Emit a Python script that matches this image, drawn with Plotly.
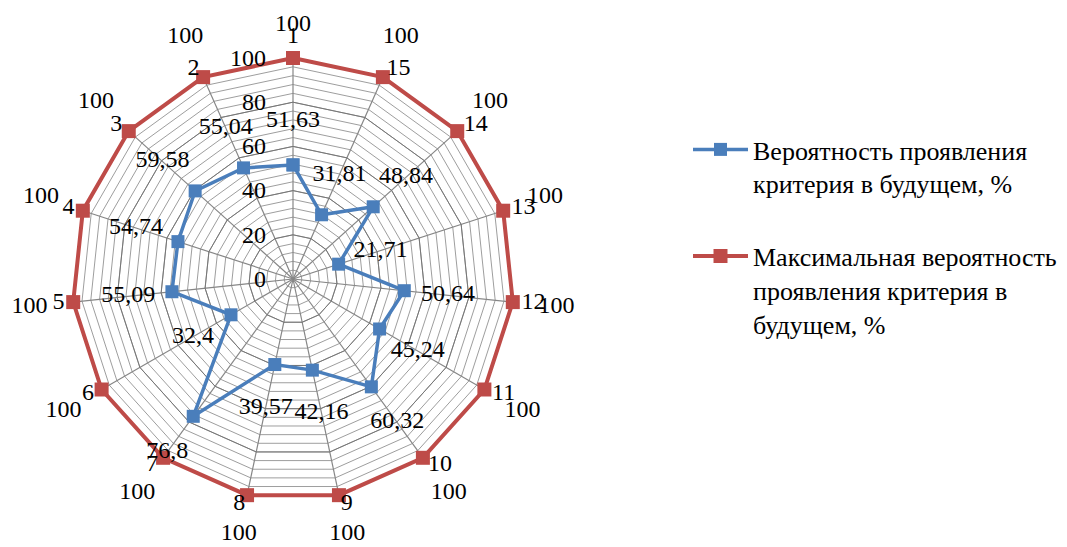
import math
import plotly.graph_objects as go

# --- data -------------------------------------------------------------
categories = [str(i) for i in range(1, 16)]
probability = [51.63, 55.04, 59.58, 54.74, 55.09, 32.4, 76.8, 39.57,
               42.16, 60.32, 45.24, 50.64, 21.71, 48.84, 31.81]
max_probability = [100, 100, 100, 100, 100, 100, 100, 100,
                   100, 100, 100, 100, 100, 100, 100]
series_names = [
    "Вероятность проявления<br>критерия в будущем, %",
    "Максимальная вероятность<br>проявления критерия в<br>будущем, %",
]
major_ticks = [0, 20, 40, 60, 80, 100]
major_tick_labels = ["0", "20", "40", "60", "80", "100"]
minor_step = 4
r_max = 100

# --- geometry / style -------------------------------------------------
W, H = 1067, 547
CX, CY, R = 293, 279, 221          # centre and radius of r = 100, px
R_RANGE = 120                      # radial range kept open for outside labels
FONT = dict(family="Liberation Serif, Times New Roman, serif", size=24, color="black")
LEGEND_FONT = dict(FONT, size=26)
BLUE = "#4A7EBB"
RED = "#BE4B48"
GRID_MINOR = "#9E9E9E"
GRID_MAJOR = "#767676"
SPOKE = "#868686"
px_per_r = R / r_max
label_gap = 44 / px_per_r          # data-label distance from its point, in r units
cat_gap = 4                        # category label distance outside the rim, in r units
top_px, bottom_px = 25, 534        # label centres stay between these page rows


def fmt(v):
    return f"{v:g}".replace(".", ",")


def closed(seq):
    return list(seq) + [seq[0]]


def angle(i):
    return math.radians(90 + i * 360 / len(categories))


def label_r(i, v):
    r = v + label_gap
    s = math.sin(angle(i))
    if s > 0.9:
        r = min(r, (CY - top_px) / s / px_per_r)
    elif s < -0.9:
        r = min(r, (bottom_px - CY) / -s / px_per_r)
    return r


fig = go.Figure()

# spokes
sp_r, sp_t = [], []
for c in categories:
    sp_r += [0, r_max, None]
    sp_t += [c, c, None]
fig.add_trace(go.Scatterpolar(
    r=sp_r, theta=sp_t, mode="lines", line=dict(color=SPOKE, width=1.2),
    hoverinfo="skip", showlegend=False, connectgaps=False))

# darker major rings on top of the minor grid
for level in major_ticks[1:-1]:
    fig.add_trace(go.Scatterpolar(
        r=closed([level] * len(categories)), theta=closed(categories),
        mode="lines", line=dict(color=GRID_MAJOR, width=1),
        hoverinfo="skip", showlegend=False))

# series
for name, vals, color, lw, ms in [
    (series_names[0], probability, BLUE, 3.5, 13),
    (series_names[1], max_probability, RED, 4, 14),
]:
    fig.add_trace(go.Scatterpolar(
        r=closed(vals), theta=closed(categories), name=name,
        mode="lines+markers",
        line=dict(color=color, width=lw),
        marker=dict(symbol="square", size=ms, color=color),
        cliponaxis=False, legendgroup=name))

# data labels, pushed radially outward from each point
for vals in (probability, max_probability):
    fig.add_trace(go.Scatterpolar(
        r=[label_r(i, v) for i, v in enumerate(vals)], theta=categories,
        mode="text", text=[fmt(v) for v in vals],
        textfont=FONT, textposition="middle center",
        cliponaxis=False, hoverinfo="skip", showlegend=False))

# category labels just outside the rim
positions = []
for i in range(len(categories)):
    c = math.cos(angle(i))
    positions.append("middle right" if c > 0.1 else "middle left" if c < -0.1 else "top center")
fig.add_trace(go.Scatterpolar(
    r=[r_max + cat_gap] * len(categories), theta=categories,
    mode="text", text=categories, textfont=FONT, textposition=positions,
    cliponaxis=False, hoverinfo="skip", showlegend=False))

minor_vals = list(range(0, r_max + 1, minor_step))
R_dom = R_RANGE * px_per_r
fig.update_layout(
    width=W, height=H, autosize=False,
    margin=dict(l=0, r=0, t=0, b=0),
    paper_bgcolor="white", plot_bgcolor="white",
    font=FONT,
    polar=dict(
        domain=dict(x=[(CX - R_dom) / W, (CX + R_dom) / W],
                    y=[(H - CY - R_dom) / H, (H - CY + R_dom) / H]),
        gridshape="linear",
        bgcolor="rgba(0,0,0,0)",
        radialaxis=dict(
            range=[0, R_RANGE], angle=90, side="counterclockwise",
            tickvals=minor_vals,
            ticktext=[major_tick_labels[major_ticks.index(v)] if v in major_ticks else ""
                      for v in minor_vals],
            tickfont=FONT, tickangle=90,
            ticks="outside", ticklen=18, tickcolor="rgba(0,0,0,0)",
            showline=False, gridcolor=GRID_MINOR, gridwidth=1),
        angularaxis=dict(
            type="category", categoryarray=categories,
            direction="counterclockwise", rotation=90,
            showticklabels=False, ticks="",
            showline=False, showgrid=False),
    ),
    showlegend=True,
    legend=dict(
        x=688 / W, y=1 - 126 / H, xanchor="left", yanchor="top",
        font=LEGEND_FONT, valign="top", traceorder="grouped",
        tracegroupgap=36, itemwidth=55, bgcolor="rgba(0,0,0,0)"),
)

fig.write_html("out.html")
